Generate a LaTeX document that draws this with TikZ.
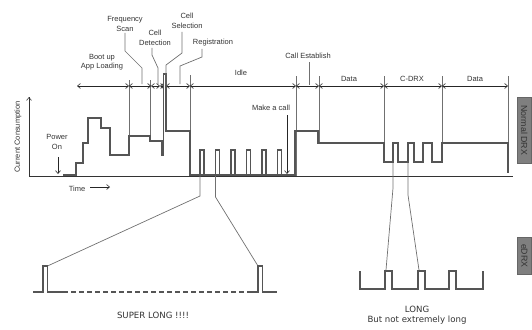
\documentclass[tikz,border=0pt]{standalone}
\usepackage{fontspec}
\setmainfont{Liberation Sans}
\newfontfamily\verd{DejaVu Sans}
\usetikzlibrary{arrows.meta}
\definecolor{wave}{HTML}{555555}
\definecolor{lead}{HTML}{707070}
\definecolor{txt}{HTML}{333333}
\definecolor{boxf}{HTML}{7F7F7F}
\begin{document}
\begin{tikzpicture}[x=1pt,y=-1pt,
  lbl/.style={text=txt,font=\fontsize{7.5}{9.5}\selectfont,inner sep=0pt,align=center},
  big/.style={text=txt,font=\verd\fontsize{8.6}{10.5}\selectfont,inner sep=0pt,align=center},
  wv/.style={draw=wave,line width=1.6pt,line join=miter},
  zw/.style={draw=wave,line width=1.2pt},
  ld/.style={draw=lead,line width=0.7pt},
  tk/.style={draw=lead,line width=0.8pt},
  seg/.style={draw=black!85,line width=0.6pt,{Straight Barb[length=3pt,width=5pt]}-{Straight Barb[length=3pt,width=5pt]}},
  sidebox/.style={draw=black!60,fill=boxf,line width=0.6pt,minimum width=14pt,inner sep=0pt}]
\useasboundingbox (0,0) rectangle (532,329);

% axes
\coordinate (o) at (29,176);
\coordinate (ytop) at (29,97);
\coordinate (xend) at (513,176);
\draw[draw=black!80,line width=0.6pt] (ytop) -- (o) -- (xend);
\draw[draw=black!80,line width=0.6pt,-{Straight Barb[length=3pt,width=5pt]}] (o) -- (ytop);
\node[lbl,rotate=90] (yl) at (18,137) {Current Consumption};
\node[lbl] (time) at (77,189) {Time};
\coordinate (ta) at (90,187); \coordinate (tb) at (110,187);
\draw[draw=black!85,line width=0.6pt,-{Straight Barb[length=3pt,width=5pt]}] (ta) -- (tb);

% tick lines
\foreach \x/\a/\b in {129/80/136,150/80/141,190/75/175,296/76/176,319/76/143,384/76/162,442/76/143,508/76/173}{
  \draw[tk] (\x,\a) -- (\x,\b);}

% arrow segments
\foreach \a/\b in {77/129,129/151,151/160,160/164,166/190,190/296,296/319,319/384,384/442,442/508}{
  \draw[seg] (\a,86) -- (\b,86);}

% waveform
\draw[wv] (63,175)--(76,175)--(76,163)--(83,163)--(83,143)--(88,143)--(88,118)--(101,118)--(101,128)--(110,128)--(110,155)--(129,155)--(129,136)--(150,136)--(150,141)--(162,141)--(162,155)--(163.5,155)--(163.5,74)--(166,74)--(166,131)--(190,131)--(190,175)--(295,175)--(295,131)--(318,131)--(318,143)--(384,143)--(384,162)--(393,162)--(393,143)--(398,143)--(398,162)--(408,162)--(408,143)--(414,143)--(414,162)--(423,162)--(423,143)--(432,143)--(432,162)--(442,162)--(442,143)--(508,143)--(508,173);
\foreach \p in {200,215.5,231,246.5,262,277.5}{
  \draw[wv] (\p,175) -- (\p,150) -- (\p+4,150) -- (\p+4,175);}

% labels
\node[lbl] (pwr) at (57,142) {Power\\On};
\coordinate (pa) at (58,157); \coordinate (pb) at (58,174);
\draw[draw=black!85,line width=0.6pt,-{Straight Barb[length=3pt,width=5pt]}] (pa) -- (pb);
\node[lbl] (boot) at (102,62) {Boot up\\App Loading};
\node[lbl] (fs) at (125,24) {Frequency\\Scan};
\node[lbl] (cd) at (155,38) {Cell\\Detection};
\node[lbl] (cs) at (187,21) {Cell\\Selection};
\node[lbl] (reg) at (213,43) {Registration};
\node[lbl] (idle) at (241,73) {Idle};
\node[lbl] (call) at (271,108) {Make a call};
\node[lbl] (ce) at (308,56) {Call Establish};
\node[lbl] (d1) at (349,79) {Data};
\node[lbl] (cdrx) at (412,79) {C-DRX};
\node[lbl] (d2) at (475,79) {Data};

\draw[ld] (125,33) -- (125,51) -- (142,68) -- (142,84);
\draw[ld] (152,48) -- (152,55) -- (158,68) -- (158,84);
\draw[ld] (182,32) -- (182,53) -- (166,65) -- (166,85);
\draw[ld] (202,49) -- (202,57) -- (180,66) -- (180,84);
\draw[ld] (309,62) -- (309,85);
\coordinate (ma) at (287,115); \coordinate (mb) at (287,174);
\draw[draw=black!85,line width=0.6pt,-{Straight Barb[length=3pt,width=5pt]}] (ma) -- (mb);

% side boxes
\node[sidebox,minimum height=66pt,anchor=north west] (ndrx) at (517,97) {};
\node[rotate=-90,text=black!80,font=\fontsize{8.8}{10}\selectfont] at (ndrx.center) {Normal DRX};
\node[sidebox,minimum height=37pt,anchor=north west] (edrx) at (517,237) {};
\node[rotate=-90,text=black!80,font=\fontsize{8.8}{10}\selectfont] at (edrx.center) {eDRX};

% zoom lines left
\draw[ld] (200,176) -- (200,196) -- (47.5,266);
\draw[ld] (215.5,176) -- (215.5,197) -- (258,266);
\draw[zw] (33,292)--(43,292)--(43,266)--(47.5,266)--(47.5,292)--(63,292);
\draw[zw,dash pattern=on 5pt off 3pt] (63,292)--(250,292);
\draw[zw] (250,292)--(258,292)--(258,266)--(262.5,266)--(262.5,292)--(277,292);
\node[big] (sl) at (153,315) {SUPER LONG !!!!};

% zoom lines right
\draw[ld] (393,163) -- (393,188) -- (386,270);
\draw[ld] (408,163) -- (408,195) -- (419,270);
\draw[zw] (360,271)--(360,289)--(385,289)--(385,271)--(392,271)--(392,289)--(418,289)--(418,271)--(425,271)--(425,289)--(449,289)--(449,271)--(456,271)--(456,289)--(483,289)--(483,271);
\node[big] (lg) at (417,315) {LONG\\But not extremely long};
\end{tikzpicture}
\end{document}
